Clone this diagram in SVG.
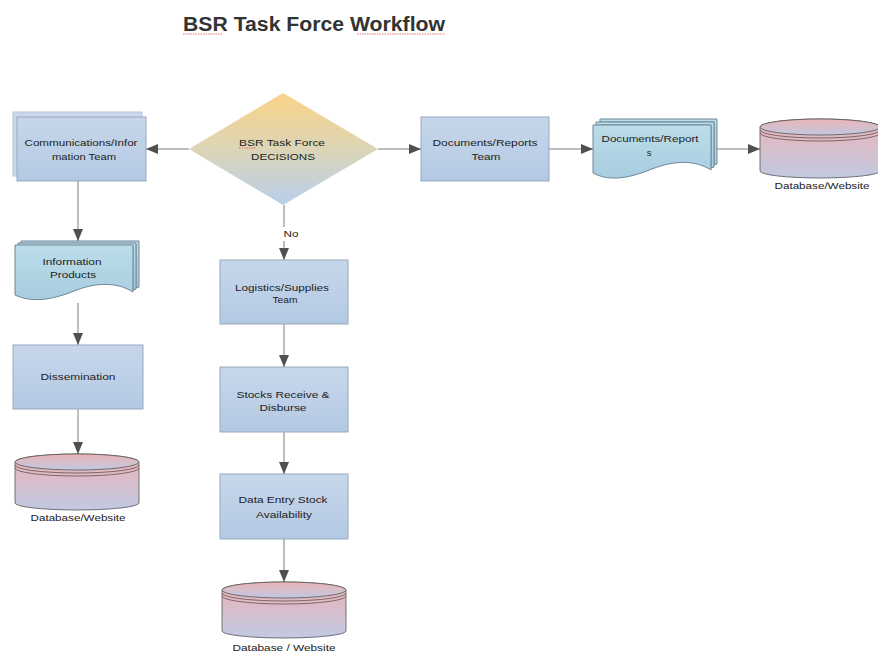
<svg xmlns="http://www.w3.org/2000/svg" width="878" height="654" viewBox="0 0 878 654">
<defs>
<linearGradient id="gBox" x1="0" y1="0" x2="0" y2="1"><stop offset="0" stop-color="#c7d7eb"/><stop offset="1" stop-color="#b3c9e3"/></linearGradient>
<linearGradient id="gDoc" x1="0" y1="0" x2="0" y2="1"><stop offset="0" stop-color="#bcdde9"/><stop offset="1" stop-color="#a8cde0"/></linearGradient>
<linearGradient id="gDia" x1="0" y1="0" x2="0" y2="1"><stop offset="0" stop-color="#fbd387"/><stop offset="0.5" stop-color="#dcd5b6"/><stop offset="1" stop-color="#b8cfec"/></linearGradient>
<linearGradient id="gCyl" x1="0" y1="0" x2="0" y2="1"><stop offset="0" stop-color="#ebb4b6"/><stop offset="1" stop-color="#c2c9e2"/></linearGradient>
<marker id="ah" viewBox="0 0 12 10" refX="12" refY="5" markerWidth="12" markerHeight="10" markerUnits="userSpaceOnUse" orient="auto"><path d="M0,0 L12,5 L0,10 Z" fill="#505050"/></marker>
</defs>
<style>
.box{fill:url(#gBox);stroke:#97a9bd;stroke-width:1}
.back{fill:#c9d8ea;stroke:#b5c4d6;stroke-width:1}
.doc{fill:url(#gDoc);stroke:#6c8796;stroke-width:1}
.cyl{fill:url(#gCyl);stroke:#555;stroke-width:0.8}
.ridge{fill:none;stroke:#6a5050;stroke-width:0.8}
.t{font-family:"Liberation Sans",Arial,sans-serif;font-size:9.5px;fill:#222;text-anchor:middle}
.conn{stroke:#a8a8a8;stroke-width:1.5;fill:none;marker-end:url(#ah)}
.sq{stroke:#e05050;stroke-width:0.8;fill:none;stroke-dasharray:1.5 1}
</style>
<rect width="878" height="654" fill="#fff"/>
<g id="title">
<text x="183" y="31" textLength="262" lengthAdjust="spacingAndGlyphs" style="font-family:'Liberation Sans',Arial,sans-serif;font-size:19.5px;font-weight:bold;fill:#333">BSR Task Force Workflow</text>
<path class="sq" d="M183,34 H222 M357,34 H445"/>
</g>
<g id="connectors">
<path class="conn" d="M189,149 H146"/>
<path class="conn" d="M378,149 H421"/>
<path class="conn" d="M549,149 H593"/>
<path class="conn" d="M717,149 H760"/>
<path class="conn" d="M78,181 V241"/>
<path class="conn" d="M78,303 V345"/>
<path class="conn" d="M78,409 V454"/>
<path d="M284,205 V227" stroke="#a8a8a8" stroke-width="1.5"/>
<path class="conn" d="M284,241 V260"/>
<path class="conn" d="M284,324 V367"/>
<path class="conn" d="M284,432 V474"/>
<path class="conn" d="M284,539 V582"/>
<text class="t" x="291" y="237" textLength="15" lengthAdjust="spacingAndGlyphs">No</text>
</g>
<g id="decision">
<polygon points="283,93 378,149 283,205 189,149" fill="url(#gDia)"/>
<text class="t" x="282" y="146" textLength="86" lengthAdjust="spacingAndGlyphs">BSR Task Force</text>
<text class="t" x="283" y="160" textLength="64" lengthAdjust="spacingAndGlyphs">DECISIONS</text>
<path class="sq" d="M239,148 H256"/>
</g>
<g id="comm">
<rect class="back" x="13" y="112" width="129" height="64"/>
<rect class="box" x="17" y="117" width="129" height="64"/>
<text class="t" x="81" y="146" textLength="113" lengthAdjust="spacingAndGlyphs">Communications/Infor</text>
<text class="t" x="84" y="160" textLength="64" lengthAdjust="spacingAndGlyphs">mation Team</text>
</g>
<g id="docteam">
<rect class="box" x="421" y="117" width="128" height="64"/>
<text class="t" x="485" y="146" textLength="105" lengthAdjust="spacingAndGlyphs">Documents/Reports</text>
<text class="t" x="486" y="160" textLength="29" lengthAdjust="spacingAndGlyphs">Team</text>
</g>
<g id="docs">
<path class="doc" d="M600,119 H717 V164 L714,165 V122 H600 Z"/>
<path class="doc" d="M596,122 H714 V167 L711,168 V125 H596 Z"/>
<path class="doc" d="M593,125 H711 V170 C695,160 675,160 652,169 C630,178 610,182 593,173 Z"/>
<text class="t" x="650" y="142" textLength="97" lengthAdjust="spacingAndGlyphs">Documents/Report</text>
<text class="t" x="649" y="156">s</text>
</g>
<g id="db1">
<path class="cyl" d="M760,127 V171 A60,7 0 0 0 880,171 V127 A60,8 0 0 0 760,127 Z"/>
<ellipse class="cyl" cx="820" cy="127" rx="60" ry="8"/>
<path class="ridge" d="M760,130 A60,8 0 0 0 880,130 M760,133 A60,8 0 0 0 880,133"/>
<text class="t" x="822" y="189" textLength="95" lengthAdjust="spacingAndGlyphs">Database/Website</text>
</g>
<g id="infoprod">
<path class="doc" d="M21,241 H139 V287 L136,288 V244 H21 Z"/>
<path class="doc" d="M18,243 H136 V289 L133,290 V246 H18 Z"/>
<path class="doc" d="M15,245 H133 V292 C117,282 97,282 74,291 C52,300 32,303 15,295 Z"/>
<text class="t" x="72" y="265" textLength="59" lengthAdjust="spacingAndGlyphs">Information</text>
<text class="t" x="73" y="278" textLength="46" lengthAdjust="spacingAndGlyphs">Products</text>
</g>
<g id="dissem">
<rect class="box" x="13" y="345" width="130" height="64"/>
<text class="t" x="78" y="380" textLength="75" lengthAdjust="spacingAndGlyphs">Dissemination</text>
</g>
<g id="db2">
<path class="cyl" d="M15,462 V503 A62,7 0 0 0 139,503 V462 A62,8 0 0 0 15,462 Z"/>
<ellipse class="cyl" cx="77" cy="462" rx="62" ry="8"/>
<path class="ridge" d="M15,465 A62,8 0 0 0 139,465 M15,468 A62,8 0 0 0 139,468"/>
<text class="t" x="78" y="521" textLength="95" lengthAdjust="spacingAndGlyphs">Database/Website</text>
</g>
<g id="logistics">
<rect class="box" x="220" y="260" width="128" height="64"/>
<text class="t" x="282" y="291" textLength="94" lengthAdjust="spacingAndGlyphs">Logistics/Supplies</text>
<text class="t" x="285" y="303" textLength="25" lengthAdjust="spacingAndGlyphs">Team</text>
</g>
<g id="stocks">
<rect class="box" x="220" y="367" width="128" height="65"/>
<text class="t" x="283" y="398" textLength="93" lengthAdjust="spacingAndGlyphs">Stocks Receive &amp;</text>
<text class="t" x="283" y="411" textLength="47" lengthAdjust="spacingAndGlyphs">Disburse</text>
</g>
<g id="dataentry">
<rect class="box" x="220" y="474" width="128" height="65"/>
<text class="t" x="283" y="503" textLength="89" lengthAdjust="spacingAndGlyphs">Data Entry Stock</text>
<text class="t" x="284" y="518" textLength="56" lengthAdjust="spacingAndGlyphs">Availability</text>
</g>
<g id="db3">
<path class="cyl" d="M222,590 V631 A62,7 0 0 0 346,631 V590 A62,8 0 0 0 222,590 Z"/>
<ellipse class="cyl" cx="284" cy="590" rx="62" ry="8"/>
<path class="ridge" d="M222,593 A62,8 0 0 0 346,593 M222,596 A62,8 0 0 0 346,596"/>
<text class="t" x="284" y="651" textLength="103" lengthAdjust="spacingAndGlyphs">Database / Website</text>
</g>
</svg>
